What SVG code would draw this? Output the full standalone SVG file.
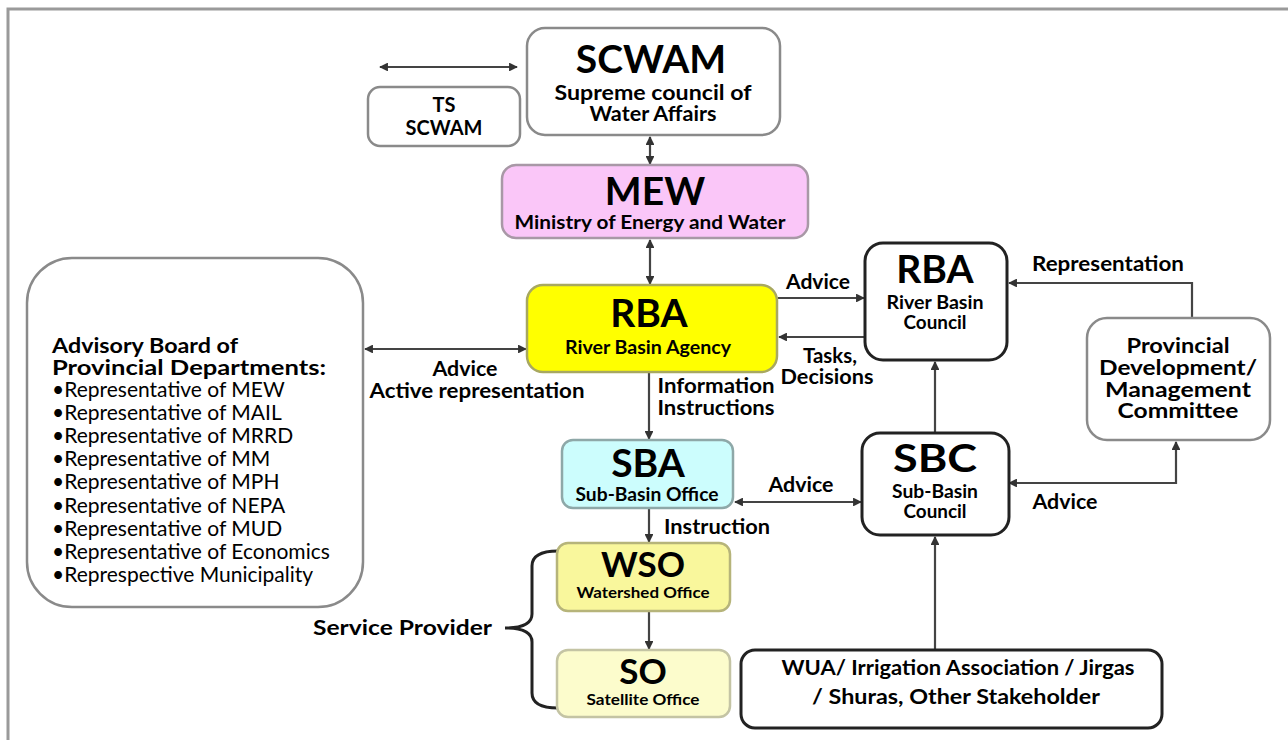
<svg xmlns="http://www.w3.org/2000/svg" width="1288" height="740" viewBox="0 0 1288 740">
<style>
text{font-family:Lato,"Open Sans","Liberation Sans",sans-serif;font-weight:bold;fill:#000;text-anchor:middle}
.big{font-size:39px}
.sub{font-size:18px}
.small{font-size:15px}
.lbl{font-size:20px}
.reg{font-weight:normal;font-size:21px;text-anchor:start}
.head{font-size:21px;text-anchor:start}
.gray{fill:#fff;stroke:#8a8a8a;stroke-width:2.5}
.blk{fill:#fff;stroke:#222;stroke-width:3}
.con{fill:none;stroke:#444;stroke-width:2.2}
</style>
<defs>
<marker id="ah" viewBox="0 0 10 10" refX="9" refY="5" markerWidth="4" markerHeight="4" orient="auto-start-reverse" markerUnits="strokeWidth">
<path d="M0,0 L10,5 L0,10 z" fill="#333"/>
</marker>
</defs>
<rect width="1288" height="740" fill="#fff"/>
<path d="M8,740 V9 H1288" fill="none" stroke="#9a9a9a" stroke-width="3"/>

<g id="connectors">
<line class="con" x1="380" y1="67" x2="517" y2="67" marker-start="url(#ah)" marker-end="url(#ah)"/>
<line class="con" x1="650" y1="137" x2="650" y2="164" marker-start="url(#ah)" marker-end="url(#ah)"/>
<line class="con" x1="650" y1="240" x2="650" y2="284" marker-start="url(#ah)" marker-end="url(#ah)"/>
<line class="con" x1="365" y1="349" x2="526" y2="349" marker-start="url(#ah)" marker-end="url(#ah)"/>
<line class="con" x1="778" y1="298" x2="864" y2="298" marker-end="url(#ah)"/>
<line class="con" x1="864" y1="337" x2="779" y2="337" marker-end="url(#ah)"/>
<path class="con" d="M1192,318 V283 H1009" marker-end="url(#ah)"/>
<line class="con" x1="935" y1="433" x2="935" y2="362" marker-end="url(#ah)"/>
<line class="con" x1="649" y1="373" x2="649" y2="439" marker-end="url(#ah)"/>
<line class="con" x1="735" y1="502" x2="861" y2="502" marker-start="url(#ah)" marker-end="url(#ah)"/>
<path class="con" d="M1176,442 V483 H1009" marker-start="url(#ah)" marker-end="url(#ah)"/>
<line class="con" x1="649" y1="509" x2="649" y2="542" marker-end="url(#ah)"/>
<line class="con" x1="649" y1="612" x2="649" y2="649" marker-end="url(#ah)"/>
<line class="con" x1="935" y1="649" x2="935" y2="537" marker-end="url(#ah)"/>
<path d="M558,551 Q532,551 532,566 L532,614 Q532,628 505,628 Q532,628 532,642 L532,693 Q532,708 558,708" fill="none" stroke="#222" stroke-width="3"/>
<text class="lbl" x="818" y="289" textLength="64" lengthAdjust="spacingAndGlyphs">Advice</text>
<text class="lbl" x="830" y="363" textLength="54" lengthAdjust="spacingAndGlyphs">Tasks,</text>
<text class="lbl" x="827" y="384" textLength="93" lengthAdjust="spacingAndGlyphs">Decisions</text>
<text class="lbl" x="1108" y="271" textLength="152" lengthAdjust="spacingAndGlyphs">Representation</text>
<text class="lbl" x="465" y="376" textLength="65" lengthAdjust="spacingAndGlyphs">Advice</text>
<text class="lbl" x="477" y="398" textLength="215" lengthAdjust="spacingAndGlyphs">Active representation</text>
<text class="lbl" x="716" y="393" textLength="117" lengthAdjust="spacingAndGlyphs">Information</text>
<text class="lbl" x="716" y="415" textLength="117" lengthAdjust="spacingAndGlyphs">Instructions</text>
<text class="lbl" x="801" y="492" textLength="65" lengthAdjust="spacingAndGlyphs">Advice</text>
<text class="lbl" x="1065" y="509" textLength="65" lengthAdjust="spacingAndGlyphs">Advice</text>
<text class="lbl" x="717" y="534" textLength="106" lengthAdjust="spacingAndGlyphs">Instruction</text>
<text class="lbl" x="492" y="635" style="text-anchor:end;font-size:21px" textLength="179" lengthAdjust="spacingAndGlyphs">Service Provider</text>
</g>

<g id="scwam">
<rect class="gray" x="527" y="28" width="253" height="107" rx="18"/>
<text class="big" x="651" y="73">SCWAM</text>
<text x="653" y="100" style="font-size:20px" textLength="197" lengthAdjust="spacingAndGlyphs">Supreme council of</text>
<text x="653" y="121" style="font-size:20px" textLength="127" lengthAdjust="spacingAndGlyphs">Water Affairs</text>
</g>
<g id="ts-scwam">
<rect class="gray" x="368" y="87" width="152" height="59" rx="12"/>
<text x="444" y="112" style="font-size:20px">TS</text>
<text x="444" y="135" style="font-size:20px" textLength="77" lengthAdjust="spacingAndGlyphs">SCWAM</text>
</g>
<g id="mew">
<rect x="502" y="165" width="306" height="73" rx="14" fill="#fac6f8" stroke="#a898a6" stroke-width="2.5"/>
<text class="big" x="655" y="205">MEW</text>
<text class="sub" x="650" y="229" textLength="271" lengthAdjust="spacingAndGlyphs">Ministry of Energy and Water</text>
</g>
<g id="rba">
<rect x="527" y="285" width="250" height="87" rx="16" fill="#ffff00" stroke="#a8a860" stroke-width="2.5"/>
<text class="big" x="649" y="327">RBA</text>
<text class="sub" x="648" y="354" textLength="166" lengthAdjust="spacingAndGlyphs">River Basin Agency</text>
</g>
<g id="rba-council">
<rect class="blk" x="865" y="243" width="142" height="117" rx="18"/>
<text class="big" x="935" y="283">RBA</text>
<text class="sub" x="935" y="309" textLength="97" lengthAdjust="spacingAndGlyphs">River Basin</text>
<text class="sub" x="935" y="329" textLength="63" lengthAdjust="spacingAndGlyphs">Council</text>
</g>
<g id="provincial">
<rect class="gray" x="1087" y="318" width="183" height="122" rx="20"/>
<text x="1178" y="353" style="font-size:20px" textLength="103" lengthAdjust="spacingAndGlyphs">Provincial</text>
<text x="1178" y="375" style="font-size:20px" textLength="158" lengthAdjust="spacingAndGlyphs">Development/</text>
<text x="1178" y="397" style="font-size:20px" textLength="146" lengthAdjust="spacingAndGlyphs">Management</text>
<text x="1178" y="418" style="font-size:20px" textLength="121" lengthAdjust="spacingAndGlyphs">Committee</text>
</g>
<g id="advisory">
<rect class="gray" x="27" y="258" width="336" height="349" rx="45"/>
<text class="head" x="52" y="353" textLength="186" lengthAdjust="spacingAndGlyphs">Advisory Board of</text>
<text class="head" x="52" y="375" textLength="274" lengthAdjust="spacingAndGlyphs">Provincial Departments:</text>
<text class="reg" x="52" y="397">•Representative of MEW</text>
<text class="reg" x="52" y="420">•Representative of MAIL</text>
<text class="reg" x="52" y="443">•Representative of MRRD</text>
<text class="reg" x="52" y="466">•Representative of MM</text>
<text class="reg" x="52" y="489">•Representative of MPH</text>
<text class="reg" x="52" y="513">•Representative of NEPA</text>
<text class="reg" x="52" y="536">•Representative of MUD</text>
<text class="reg" x="52" y="559">•Representative of Economics</text>
<text class="reg" x="52" y="582">•Represpective Municipality</text>
</g>
<g id="sba">
<rect x="562" y="440" width="171" height="68" rx="11" fill="#ccfdfd" stroke="#8ea8a8" stroke-width="2.5"/>
<text class="big" x="648" y="477">SBA</text>
<text class="sub" x="647" y="501" textLength="143" lengthAdjust="spacingAndGlyphs">Sub-Basin Office</text>
</g>
<g id="sbc">
<rect class="blk" x="862" y="433" width="147" height="102" rx="18"/>
<text class="big" x="935" y="472" textLength="84" lengthAdjust="spacingAndGlyphs">SBC</text>
<text class="sub" x="935" y="498" textLength="86" lengthAdjust="spacingAndGlyphs">Sub-Basin</text>
<text class="sub" x="935" y="518" textLength="63" lengthAdjust="spacingAndGlyphs">Council</text>
</g>
<g id="wso">
<rect x="557" y="543" width="173" height="68" rx="11" fill="#f9f79c" stroke="#b6b47a" stroke-width="2.5"/>
<text class="big" x="643" y="577" style="font-size:35px">WSO</text>
<text class="small" x="643" y="598" textLength="133" lengthAdjust="spacingAndGlyphs">Watershed Office</text>
</g>
<g id="so">
<rect x="557" y="650" width="173" height="67" rx="11" fill="#fcfccc" stroke="#c4c4a4" stroke-width="2.5"/>
<text class="big" x="643" y="684" style="font-size:35px">SO</text>
<text class="small" x="643" y="705" textLength="113" lengthAdjust="spacingAndGlyphs">Satellite Office</text>
</g>
<g id="wua">
<rect class="blk" x="741" y="650" width="421" height="78" rx="14"/>
<text x="958" y="675" style="font-size:21px" textLength="353" lengthAdjust="spacingAndGlyphs">WUA/ Irrigation Association / Jirgas</text>
<text x="956" y="704" style="font-size:21px" textLength="288" lengthAdjust="spacingAndGlyphs">/ Shuras, Other Stakeholder</text>
</g>
</svg>
